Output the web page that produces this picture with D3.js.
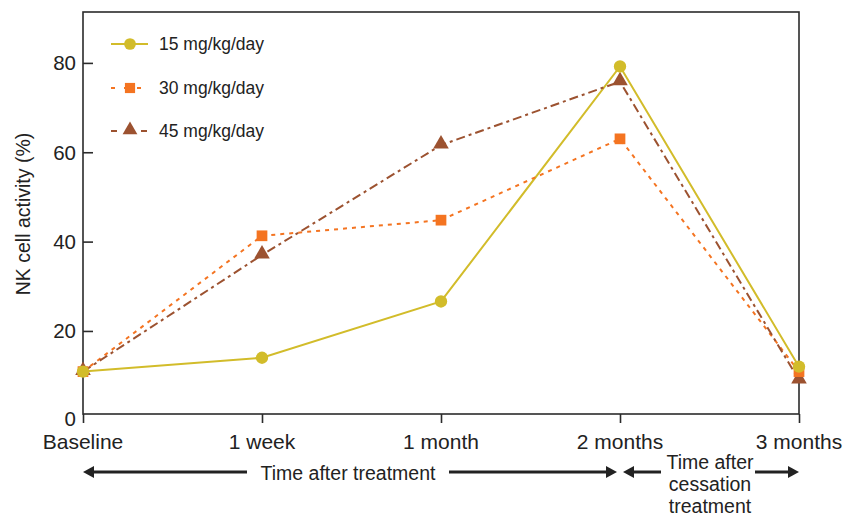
<!DOCTYPE html>
<html><head><meta charset="utf-8">
<script src="https://cdn.jsdelivr.net/npm/d3@7"></script>
<style>body{margin:0;background:#fff;} text{font-family:"Liberation Sans",Arial,sans-serif;}</style>
</head><body><svg id="c" width="843" height="513"></svg>
<script>
const categories = ["Baseline","1 week","1 month","2 months","3 months"];
const s15 = [10.9, 14.0, 26.6, 79.2, 12.0];
const s30 = [10.9, 41.3, 44.8, 63.0, 10.9];
const s45 = [10.9, 37.0, 61.6, 75.8, 9.0];
const seriesNames = ["15 mg/kg/day","30 mg/kg/day","45 mg/kg/day"];
const yTicks = [0,20,40,60,80];

const svg = d3.select("#c");
const pL=83, pR=799, pT=12, pB=414;
const x = d3.scalePoint().domain(categories).range([pL,pR]);
const y = d3.scaleLinear().domain([0,80]).range([420.3,62.9]);
const axisColor="#2b2b2b";

svg.append("rect").attr("x",pL).attr("y",pT).attr("width",pR-pL).attr("height",pB-pT)
  .attr("fill","none").attr("stroke",axisColor).attr("stroke-width",1.6);

const ya = svg.append("g").attr("transform",`translate(${pL},0)`)
  .call(d3.axisRight(y).tickValues(yTicks).tickSize(10).tickFormat(""));
ya.select(".domain").remove();
ya.selectAll(".tick line").attr("stroke",axisColor).attr("stroke-width",1.6)
  .attr("display",d=>d===0?"none":null);
svg.append("g").selectAll("text").data(yTicks).join("text")
  .attr("x",76).attr("y",d=>d===0?y(d)-1.5:y(d)).attr("dy","0.36em").attr("text-anchor","end")
  .attr("font-size",20.5).attr("fill","#222").text(d=>d);

const xa = svg.append("g").attr("transform",`translate(0,${pB})`)
  .call(d3.axisBottom(x).tickSize(9).tickFormat(""));
xa.select(".domain").remove();
xa.selectAll(".tick line").attr("stroke",axisColor).attr("stroke-width",1.6);
svg.append("g").selectAll("text").data(categories).join("text")
  .attr("x",d=>x(d)).attr("y",441).attr("dy","0.36em").attr("text-anchor","middle")
  .attr("font-size",21).attr("fill","#222").text(d=>d);

svg.append("text").attr("transform","translate(23,214) rotate(-90)").attr("text-anchor","middle")
  .attr("dy","0.36em").attr("font-size",19.5).attr("fill","#222").text("NK cell activity (%)");

const colors = ["#D2BC2A","#F47421","#9C5230"];
const dashes = [null,"4,5","9,4,3,4"];
const data = [s15,s30,s45];
const line = d3.line().x((d,i)=>x(categories[i])).y(d=>y(d));
const sym = [d3.symbolCircle,d3.symbolSquare,d3.symbolTriangle];
const symSize=[120,115,105];

data.forEach((s,k)=>{
  svg.append("path").datum(s).attr("d",line).attr("fill","none").attr("stroke",colors[k])
    .attr("stroke-width",2).attr("stroke-dasharray",dashes[k]);
});
[2,1,0].forEach(k=>{
  svg.append("g").selectAll("path").data(data[k]).join("path")
    .attr("transform",(d,i)=>`translate(${x(categories[i])},${y(d)+(k===2?-1:0)})`)
    .attr("d",d3.symbol().type(sym[k]).size(symSize[k])).attr("fill",colors[k]);
});

const legY=[44,88,131];
seriesNames.forEach((n,k)=>{
  const g = svg.append("g");
  g.append("line").attr("x1",111).attr("x2",148).attr("y1",legY[k]).attr("y2",legY[k])
    .attr("stroke",colors[k]).attr("stroke-width",2).attr("stroke-dasharray",k===0?null:(k===1?"4,9":"6,9"));
  g.append("path").attr("transform",`translate(130,${legY[k]+(k===2?-1:0)})`)
    .attr("d",d3.symbol().type(sym[k]).size(symSize[k]*0.9)).attr("fill",colors[k]);
  g.append("text").attr("x",159).attr("y",legY[k]).attr("dy","0.36em").attr("font-size",17.5)
    .attr("fill","#222").text(n);
});

function arrow(x1,x2,yy){
  const dir = x2>x1?1:-1;
  svg.append("line").attr("x1",x1).attr("x2",x2-dir*8).attr("y1",yy).attr("y2",yy)
    .attr("stroke","#222").attr("stroke-width",3);
  svg.append("path").attr("d",`M${x2},${yy} L${x2-dir*11},${yy-6} L${x2-dir*11},${yy+6} Z`).attr("fill","#222");
}
const ay=472;
arrow(247,x("Baseline"),ay);
arrow(449,x("2 months")-3,ay);
arrow(661,x("2 months")+3,ay);
arrow(755,x("3 months"),ay);
svg.append("text").attr("x",348).attr("y",ay+1).attr("dy","0.36em").attr("text-anchor","middle")
  .attr("font-size",19.5).attr("fill","#222").text("Time after treatment");
const tl=["Time after","cessation","treatment"];
svg.append("g").selectAll("text").data(tl).join("text").attr("x",710).attr("y",(d,i)=>462+i*22)
  .attr("dy","0.36em").attr("text-anchor","middle").attr("font-size",19.5).attr("fill","#222").text(d=>d);
</script></body></html>
